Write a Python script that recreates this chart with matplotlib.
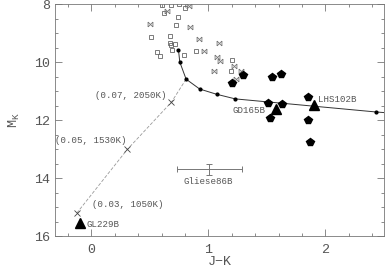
import numpy as np
import matplotlib
matplotlib.use('Agg')
import matplotlib.pyplot as plt
from matplotlib.path import Path

plt.rcParams['font.family'] = ['Liberation Mono', 'DejaVu Sans Mono']
plt.rcParams['mathtext.fontset'] = 'custom'
plt.rcParams['mathtext.rm'] = 'Liberation Mono'

# model sequence (solid, dots)
seq_jk = [0.745, 0.756, 0.81, 0.926, 1.07, 1.23, 2.43, 2.56]
seq_mk = [9.59, 10.0, 10.59, 10.93, 11.11, 11.27, 11.72, 11.76]

# dusty/cool track (dashed) with model labels
dash_jk = [0.81, 0.685, 0.308, -0.123]
dash_mk = [10.59, 11.38, 13.01, 15.20]
cross_jk = [0.685, 0.308, -0.123]
cross_mk = [11.38, 13.01, 15.20]
cross_lab = ['(0.07, 2050K)', '(0.05, 1530K)', '(0.03, 1050K)']

# known brown dwarfs (triangles)
bd_names = ['GL229B', 'GD165B', 'LHS102B']
bd_jk = [-0.098, 1.579, 1.902]
bd_mk = [15.56, 11.62, 11.49]

# filled pentagons
pent_jk = [1.202, 1.30, 1.542, 1.621, 1.849, 1.511, 1.63, 1.53, 1.849, 1.868]
pent_mk = [10.71, 10.45, 10.52, 10.41, 11.20, 11.42, 11.46, 11.94, 12.01, 12.77]

# open squares
sq_jk = [0.606, 0.677, 0.747, 0.804, 0.62, 0.739, 0.722, 0.506, 0.671, 0.671,
         0.711, 0.685, 0.691, 0.56, 0.589, 0.79, 0.898, 1.202, 1.193]
sq_mk = [8.03, 8.03, 8.01, 8.15, 8.30, 8.44, 8.72, 9.15, 9.10, 9.33,
         9.39, 9.41, 9.59, 9.64, 9.79, 9.76, 9.61, 9.94, 10.30]

# small bow-tie symbols
bt_jk = [0.832, 0.643, 0.50, 0.841, 0.921, 1.089, 0.96, 1.072, 1.10, 1.221, 1.051, 1.281, 1.238]
bt_mk = [8.07, 8.23, 8.69, 8.78, 9.21, 9.33, 9.62, 9.84, 9.97, 10.14, 10.32, 10.30, 10.57]

# Gliese 86B with error bars
g86_jk, g86_mk = 1.008, 13.70
g86_xerr, g86_yerr = 0.28, 0.2

grey = '#777777'
txt = '#555555'

bowtie = Path([(-1, -1), (-1, 1), (1, -1), (1, 1), (-1, -1), (1, 1), (-1, 1), (1, -1)],
              [Path.MOVETO, Path.LINETO, Path.MOVETO, Path.LINETO,
               Path.MOVETO, Path.LINETO, Path.MOVETO, Path.LINETO])

fig = plt.figure(figsize=(3.85, 2.68), dpi=100)
ax = fig.add_axes([0.143, 0.119, 0.854, 0.866])

ax.plot(dash_jk, dash_mk, ls=(0, (4, 2)), color='#999999', lw=0.6)
ax.plot(cross_jk, cross_mk, 'x', color='#444444', ms=5, mew=0.6)
ax.plot(seq_jk, seq_mk, '-', color='#333333', lw=0.7)
ax.plot(seq_jk, seq_mk, 'o', color='black', ms=2)

ax.plot(sq_jk, sq_mk, 's', mfc='none', mec='#666666', ms=2.6, mew=0.6, ls='none')
ax.plot(bt_jk, bt_mk, marker=bowtie, mfc='none', mec='#777777', ms=3.5, mew=0.6, ls='none')
ax.plot(pent_jk, pent_mk, 'p', color='black', ms=5.5, ls='none')
ax.plot(bd_jk, bd_mk, '^', color='black', ms=6.5, ls='none')

ax.errorbar(g86_jk, g86_mk, xerr=g86_xerr, yerr=g86_yerr, fmt='none',
            ecolor=grey, elinewidth=0.7, capsize=2.5, capthick=0.7)

fs = 6.6
ax.text(1.0, g86_mk + 0.43, 'Gliese86B', fontsize=fs, color=txt,
        ha='center', va='center')

# cross labels
ax.text(cross_jk[0] - 0.042, cross_mk[0] - 0.24, cross_lab[0], fontsize=fs,
        color=txt, ha='right', va='center')
ax.text(cross_jk[1] - 0.006, cross_mk[1] - 0.30, cross_lab[1], fontsize=fs,
        color=txt, ha='right', va='center')
ax.text(cross_jk[2] + 0.127, cross_mk[2] - 0.30, cross_lab[2], fontsize=fs,
        color=txt, ha='left', va='center')

ax.text(bd_jk[0] + 0.06, bd_mk[0] + 0.03, bd_names[0], fontsize=fs, color=txt,
        ha='left', va='center')
ax.text(bd_jk[1] - 0.094, bd_mk[1] + 0.04, bd_names[1], fontsize=fs, color=txt,
        ha='right', va='center')
ax.text(bd_jk[2] + 0.034, bd_mk[2] - 0.21, bd_names[2], fontsize=fs, color=txt,
        ha='left', va='center')

ax.set_xlim(-0.31, 2.5)
ax.set_ylim(16, 8)
ax.set_xticks([0, 1, 2])
ax.set_xticks(np.arange(-0.2, 2.5, 0.2), minor=True)
ax.set_yticks([8, 10, 12, 14, 16])
ax.set_yticks(np.arange(8, 16.01, 0.5), minor=True)
ax.tick_params(which='both', direction='in', top=True, right=True,
               color=grey, labelcolor=txt, labelsize=9.6, width=0.6)
ax.tick_params(which='major', length=5)
ax.tick_params(which='minor', length=2.5)
ax.tick_params(axis='x', pad=6)
for s in ax.spines.values():
    s.set_color(grey)
    s.set_linewidth(0.6)

ax.set_xlabel('J\u2212K', fontsize=9.6, color=txt, labelpad=0)
ax.set_ylabel(r'M$_{\rm K}$', fontsize=9.6, color=txt, va='center')
ax.yaxis.set_label_coords(-0.125, 0.5)

fig.savefig('out.png', dpi=100)
